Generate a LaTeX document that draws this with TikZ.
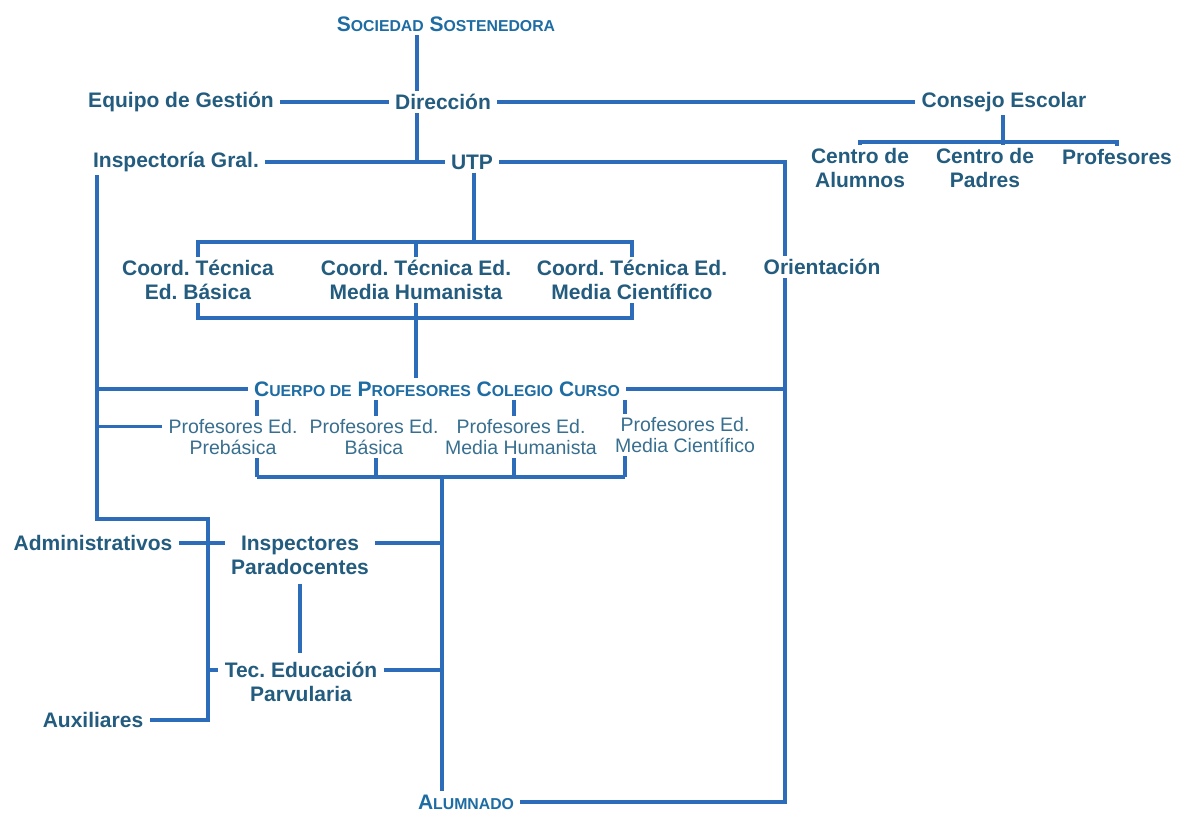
\documentclass[tikz,border=0pt]{standalone}
\usepackage{fontspec}
\setmainfont{Liberation Sans}
\definecolor{txtblue}{HTML}{235C7E}
\definecolor{capblue}{HTML}{1D6CA3}
\definecolor{proftxt}{HTML}{386F8F}
\definecolor{lineblue}{HTML}{2C6CB8}
\newcommand{\fsc}[2]{#1{\fontsize{7.9}{9}\selectfont #2}}
\frenchspacing
\begin{document}
\begin{tikzpicture}
		[x=0.5pt, y=-0.5pt,
		every node/.style={inner xsep=3pt, inner ysep=1.5pt, align=center, text=txtblue,
			font=\bfseries\fontsize{10.5}{12}\selectfont},
		head/.style={text=capblue},
		prof/.style={text=proftxt, font=\mdseries\fontsize{9.75}{10.5}\selectfont},
		link/.style={draw=lineblue, line width=1.7pt}]
		\useasboundingbox (0,0) rectangle (1177,813);
		\fill[white] (0,0) rectangle (1177,813);
		\node[head] (soc) at (446,24) {\fsc{S}{OCIEDAD} \fsc{S}{OSTENEDORA}};
		\node (dir) at (443,102) {Dirección};
		\node (equipo) at (181,102) {Equipo de Gestión};
		\node (consejo) at (1004,102) {Consejo Escolar};
		\node (insp) at (176,162) {Inspectoría Gral.};
		\node (utp) at (472,162) {UTP};
		\node (calum) at (860,168) {Centro de\\Alumnos};
		\node (cpad) at (985,168) {Centro de\\Padres};
		\node (cprof) at (1117,157) {Profesores};
		\node (orient) at (822,267) {Orientación};
		\node (cbas) at (198,280) {Coord. Técnica\\Ed. Básica};
		\node (chum) at (416,280) {Coord. Técnica Ed.\\Media Humanista};
		\node (ccie) at (632,280) {Coord. Técnica Ed.\\Media Científico};
		\node[head] (cuerpo) at (437,389) {\fsc{C}{UERPO DE} \fsc{P}{ROFESORES} \fsc{C}{OLEGIO} \fsc{C}{URSO}};
		\node[prof] (ppre) at (233,437) {Profesores Ed.\\Prebásica};
		\node[prof] (pbas) at (374,437) {Profesores Ed.\\Básica};
		\node[prof] (phum) at (521,437) {Profesores Ed.\\Media Humanista};
		\node[prof] (pcie) at (685,435) {Profesores Ed.\\Media Científico};
		\node (admin) at (93,543) {Administrativos};
		\node (inspec) at (300,555) {Inspectores\\Paradocentes};
		\node (tec) at (301,682) {Tec. Educación\\Parvularia};
		\node (aux) at (93,720) {Auxiliares};
		\node[head] (alum) at (466,802) {\fsc{A}{LUMNADO}};
		\coordinate (jdir) at (417,162);
		\coordinate (oax) at (785,162);
		\coordinate (cbar) at (1003,142);
		\coordinate (utpbar) at (474,242);
		\coordinate (coordbar) at (416,318);
		\coordinate (iax) at (97,519);
		\coordinate (aax) at (208,519);
		\coordinate (p1) at (257,477);
		\coordinate (p2) at (376,477);
		\coordinate (p3) at (514,477);
		\coordinate (p4) at (625,477);
		\coordinate (pmid) at (442,477);
		\coordinate (ppre1) at ([yshift=5.25pt]ppre.west);
		\coordinate (tecw) at ([yshift=6pt]tec.west);
		\coordinate (tece) at ([yshift=6pt]tec.east);
		\draw[link] (soc.south -| jdir) -- (dir.north -| jdir);
		\draw[link] (dir.south -| jdir) -- (jdir);
		\draw[link] (equipo.east) -- (dir.west);
		\draw[link] (dir.east) -- (consejo.west);
		\draw[link] (insp.east) -- (utp.west);
		\draw[link] (utp.east) -- (oax) -- (orient.north -| oax);
		\draw[link] (orient.south -| oax) |- (alum.east);
		\draw[link] (consejo.south -| cbar) -- (cpad.north -| cbar);
		\draw[link] (calum.north) |- (cbar) -| (cprof.north);
		\draw[link] (utp.south -| utpbar) -- (utpbar);
		\draw[link] (cbas.north) |- (utpbar) -| (ccie.north);
		\draw[link] (chum.north) -- (chum.north |- utpbar);
		\draw[link] (cbas.south) |- (coordbar) -| (ccie.south);
		\draw[link] (chum.south) -- (chum.south |- cuerpo.north);
		\draw[link] (insp.south -| iax) -- (iax) -- (aax) |- (aux.east);
		\draw[link] (cuerpo.west -| iax) -- (cuerpo.west);
		\draw[link] (ppre1 -| iax) -- (ppre1);
		\draw[link] (cuerpo.east) -- (cuerpo.east -| oax);
		\foreach \p/\n in {p1/ppre, p2/pbas, p3/phum, p4/pcie} {
			\draw[link] (cuerpo.south -| \p) -- (\n.north -| \p);
			\draw[link] (\n.south -| \p) -- (\p);
		}
		\draw[link] (p1) -- (p4);
		\draw[link] (pmid) -- (alum.north -| pmid);
		\draw[link] (admin.east) -- (admin.east -| inspec.west);
		\draw[link] (inspec.east |- admin.east) -- (admin.east -| pmid);
		\draw[link] (tecw -| aax) -- (tecw);
		\draw[link] (tece) -- (tece -| pmid);
		\draw[link, shorten <=3pt, shorten >=3pt] (inspec.south) -- (inspec.south |- tec.north);
	\end{tikzpicture}
\end{document}
